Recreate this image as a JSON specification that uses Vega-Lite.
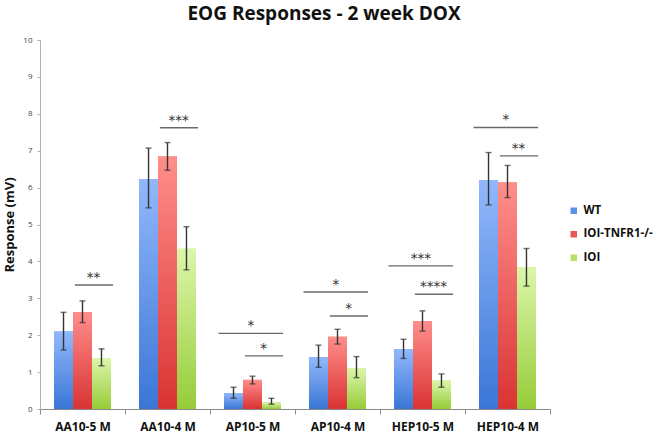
{
  "$schema": "https://vega.github.io/schema/vega-lite/v6.json",
  "autosize": {"type": "none"},
  "width": 510,
  "height": 369,
  "padding": {"left": 40, "top": 40, "right": 104, "bottom": 29},
  "background": "white",
  "title": {
    "text": "EOG Responses - 2 week DOX",
    "font": "Open Sans",
    "fontSize": 19,
    "fontWeight": "bold",
    "color": "#111111",
    "anchor": "middle",
    "dx": 29,
    "offset": 12
  },
  "config": {
    "view": {"stroke": null},
    "font": "Open Sans"
  },
  "datasets": {
    "bars": [
      {"cat": "AA10-5 M", "group": "WT", "mean": 2.10, "lo": 1.60, "hi": 2.62},
      {"cat": "AA10-5 M", "group": "IOI-TNFR1-/-", "mean": 2.62, "lo": 2.34, "hi": 2.93},
      {"cat": "AA10-5 M", "group": "IOI", "mean": 1.38, "lo": 1.17, "hi": 1.63},
      {"cat": "AA10-4 M", "group": "WT", "mean": 6.23, "lo": 5.45, "hi": 7.07},
      {"cat": "AA10-4 M", "group": "IOI-TNFR1-/-", "mean": 6.84, "lo": 6.47, "hi": 7.22},
      {"cat": "AA10-4 M", "group": "IOI", "mean": 4.34, "lo": 3.77, "hi": 4.94},
      {"cat": "AP10-5 M", "group": "WT", "mean": 0.43, "lo": 0.29, "hi": 0.59},
      {"cat": "AP10-5 M", "group": "IOI-TNFR1-/-", "mean": 0.79, "lo": 0.68, "hi": 0.89},
      {"cat": "AP10-5 M", "group": "IOI", "mean": 0.18, "lo": 0.13, "hi": 0.29},
      {"cat": "AP10-4 M", "group": "WT", "mean": 1.40, "lo": 1.13, "hi": 1.73},
      {"cat": "AP10-4 M", "group": "IOI-TNFR1-/-", "mean": 1.96, "lo": 1.76, "hi": 2.16},
      {"cat": "AP10-4 M", "group": "IOI", "mean": 1.10, "lo": 0.85, "hi": 1.42},
      {"cat": "HEP10-5 M", "group": "WT", "mean": 1.62, "lo": 1.37, "hi": 1.89},
      {"cat": "HEP10-5 M", "group": "IOI-TNFR1-/-", "mean": 2.38, "lo": 2.11, "hi": 2.66},
      {"cat": "HEP10-5 M", "group": "IOI", "mean": 0.77, "lo": 0.59, "hi": 0.95},
      {"cat": "HEP10-4 M", "group": "WT", "mean": 6.20, "lo": 5.53, "hi": 6.95},
      {"cat": "HEP10-4 M", "group": "IOI-TNFR1-/-", "mean": 6.14, "lo": 5.73, "hi": 6.60},
      {"cat": "HEP10-4 M", "group": "IOI", "mean": 3.84, "lo": 3.33, "hi": 4.35}
    ],
    "sig": [
      {"cat": "AA10-5 M", "span": "short", "label": "**", "level": 3.36},
      {"cat": "AA10-4 M", "span": "short", "label": "***", "level": 7.62},
      {"cat": "AP10-5 M", "span": "long", "label": "*", "level": 2.05},
      {"cat": "AP10-5 M", "span": "short", "label": "*", "level": 1.44},
      {"cat": "AP10-4 M", "span": "long", "label": "*", "level": 3.17},
      {"cat": "AP10-4 M", "span": "short", "label": "*", "level": 2.52},
      {"cat": "HEP10-5 M", "span": "long", "label": "***", "level": 3.88},
      {"cat": "HEP10-5 M", "span": "short", "label": "****", "level": 3.11},
      {"cat": "HEP10-4 M", "span": "long", "label": "*", "level": 7.63},
      {"cat": "HEP10-4 M", "span": "short", "label": "**", "level": 6.86}
    ]
  },
  "encoding": {
    "x": {
      "field": "cat",
      "type": "nominal",
      "sort": null,
      "title": null,
      "scale": {"paddingInner": 0, "paddingOuter": 0},
      "axis": {
        "labelAngle": 0,
        "labelFont": "Open Sans",
        "labelFontSize": 12,
        "labelFontWeight": "bold",
        "labelColor": "#111111",
        "labelPadding": 7,
        "domainColor": "#8a8a8a",
        "domainWidth": 1,
        "tickBand": "extent",
        "tickColor": "#8a8a8a",
        "tickSize": 5
      }
    },
    "y": {
      "field": "mean",
      "type": "quantitative",
      "title": "Response (mV)",
      "scale": {"domain": [0, 10], "nice": false},
      "axis": {
        "values": [0, 1, 2, 3, 4, 5, 6, 7, 8, 9, 10],
        "labelOverlap": false,
        "grid": false,
        "labelFont": "Open Sans",
        "labelFontSize": 8,
        "labelColor": "#444444",
        "labelPadding": 5,
        "domainColor": "#b0b0b0",
        "tickColor": "#b0b0b0",
        "tickSize": 3,
        "titleFont": "Open Sans",
        "titleFontSize": 13,
        "titleFontWeight": "bold",
        "titleColor": "#111111",
        "titlePadding": 6
      }
    }
  },
  "layer": [
    {
      "data": {"name": "bars"},
      "mark": {"type": "bar"},
      "encoding": {
        "xOffset": {
          "field": "group",
          "type": "nominal",
          "sort": ["WT", "IOI-TNFR1-/-", "IOI"],
          "scale": {"paddingInner": 0, "paddingOuter": 0.74}
        },
        "color": {
          "field": "group",
          "type": "nominal",
          "sort": ["WT", "IOI-TNFR1-/-", "IOI"],
          "scale": {
            "domain": ["WT", "IOI-TNFR1-/-", "IOI"],
            "range": ["#5b91e6", "#e85656", "#b6e06a"]
          },
          "legend": {
            "title": null,
            "orient": "none",
            "legendX": 528,
            "legendY": 165,
            "padding": 0,
            "symbolType": "square",
            "symbolSize": 42,
            "symbolStrokeWidth": 0,
            "labelFont": "Open Sans",
            "labelFontSize": 11.5,
            "labelFontWeight": "bold",
            "labelColor": "#111111",
            "labelOffset": 4,
            "labelLimit": 200,
            "rowPadding": 10.5
          }
        }
      }
    },
    {
      "data": {"name": "bars"},
      "mark": {"type": "bar"},
      "encoding": {
        "xOffset": {"field": "group", "type": "nominal", "sort": ["WT", "IOI-TNFR1-/-", "IOI"]},
        "fill": {
          "condition": [
            {
              "test": "datum.group === 'WT'",
              "value": {
                "gradient": "linear", "x1": 0, "y1": 0, "x2": 0, "y2": 1,
                "stops": [{"offset": 0, "color": "#92b8fb"}, {"offset": 1, "color": "#3a76d6"}]
              }
            },
            {
              "test": "datum.group === 'IOI-TNFR1-/-'",
              "value": {
                "gradient": "linear", "x1": 0, "y1": 0, "x2": 0, "y2": 1,
                "stops": [{"offset": 0, "color": "#ff8e8b"}, {"offset": 1, "color": "#d93333"}]
              }
            }
          ],
          "value": {
            "gradient": "linear", "x1": 0, "y1": 0, "x2": 0, "y2": 1,
            "stops": [{"offset": 0, "color": "#dcf6ab"}, {"offset": 1, "color": "#96cc38"}]
          }
        }
      }
    },
    {
      "data": {"name": "bars"},
      "mark": {"type": "rule", "color": "#333333", "strokeWidth": 1.4},
      "encoding": {
        "xOffset": {"field": "group", "type": "nominal", "sort": ["WT", "IOI-TNFR1-/-", "IOI"]},
        "y": {"field": "lo", "type": "quantitative"},
        "y2": {"field": "hi"}
      }
    },
    {
      "data": {"name": "bars"},
      "mark": {"type": "tick", "color": "#333333", "size": 6, "thickness": 1.4, "orient": "horizontal"},
      "encoding": {
        "xOffset": {"field": "group", "type": "nominal", "sort": ["WT", "IOI-TNFR1-/-", "IOI"]},
        "y": {"field": "lo", "type": "quantitative"}
      }
    },
    {
      "data": {"name": "bars"},
      "mark": {"type": "tick", "color": "#333333", "size": 6, "thickness": 1.4, "orient": "horizontal"},
      "encoding": {
        "xOffset": {"field": "group", "type": "nominal", "sort": ["WT", "IOI-TNFR1-/-", "IOI"]},
        "y": {"field": "hi", "type": "quantitative"}
      }
    },
    {
      "data": {"name": "sig"},
      "transform": [{"filter": "datum.span === 'long'"}],
      "mark": {"type": "rule", "color": "#6a6a6a", "strokeWidth": 1.4},
      "encoding": {
        "x": {"field": "cat", "type": "nominal", "sort": null, "bandPosition": 0.1},
        "x2": {"field": "cat", "bandPosition": 0.86},
        "y": {"field": "level", "type": "quantitative"}
      }
    },
    {
      "data": {"name": "sig"},
      "transform": [{"filter": "datum.span === 'short'"}],
      "mark": {"type": "rule", "color": "#6a6a6a", "strokeWidth": 1.4},
      "encoding": {
        "x": {"field": "cat", "type": "nominal", "sort": null, "bandPosition": 0.41},
        "x2": {"field": "cat", "bandPosition": 0.86},
        "y": {"field": "level", "type": "quantitative"}
      }
    },
    {
      "data": {"name": "sig"},
      "transform": [{"filter": "datum.span === 'long'"}],
      "mark": {"type": "text", "font": "DejaVu Sans", "fontSize": 13.5, "color": "#333333", "baseline": "alphabetic", "dy": -3},
      "encoding": {
        "x": {"field": "cat", "type": "nominal", "sort": null, "bandPosition": 0.48},
        "y": {"field": "level", "type": "quantitative"},
        "text": {"field": "label"}
      }
    },
    {
      "data": {"name": "sig"},
      "transform": [{"filter": "datum.span === 'short'"}],
      "mark": {"type": "text", "font": "DejaVu Sans", "fontSize": 13.5, "color": "#333333", "baseline": "alphabetic", "dy": -3},
      "encoding": {
        "x": {"field": "cat", "type": "nominal", "sort": null, "bandPosition": 0.63},
        "y": {"field": "level", "type": "quantitative"},
        "text": {"field": "label"}
      }
    }
  ]
}
